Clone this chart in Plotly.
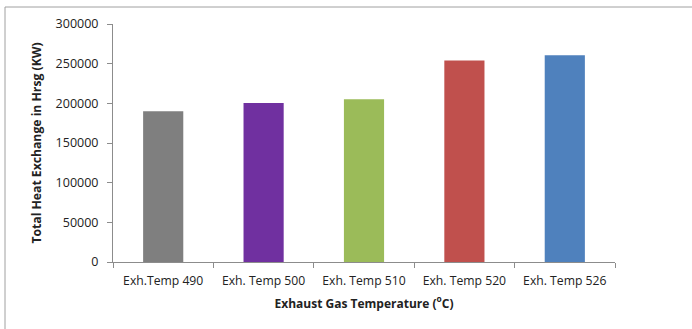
import plotly.graph_objects as go

categories = ["Exh.Temp 490", "Exh. Temp 500", "Exh. Temp 510", "Exh. Temp 520", "Exh. Temp 526"]
heat_exchange = [190000, 200500, 205000, 254000, 260500]
bar_colors = ["#7f7f7f", "#7030a0", "#9bbb59", "#c0504d", "#4f81bd"]
y_ticks = [0, 50000, 100000, 150000, 200000, 250000, 300000]

fig = go.Figure(go.Bar(x=categories, y=heat_exchange, marker=dict(color=bar_colors, line=dict(width=0)), width=0.4))

fnt = "Open Sans, Liberation Sans, sans-serif"
fig.update_layout(
    width=692, height=329,
    margin=dict(l=113, r=77, t=24, b=67, autoexpand=False),
    paper_bgcolor="white", plot_bgcolor="white",
    showlegend=False,
    font=dict(family=fnt, size=11, color="#222"),
    xaxis=dict(
        type="category", showline=True, linecolor="#8c8c8c", linewidth=1,
        ticks="outside", tickson="boundaries", ticklen=5, tickcolor="#8c8c8c",
        ticklabelstandoff=7,
        tickfont=dict(size=12.2, color="#222"),
        title=dict(text="<b>Exhaust Gas Temperature (<sup>o</sup>C)</b>", font=dict(size=12), standoff=11),
    ),
    yaxis=dict(
        range=[0, 300000], tickvals=y_ticks, tickformat="d", showline=True, linecolor="#8c8c8c", linewidth=1,
        ticks="outside", ticklen=5, tickcolor="#8c8c8c", showgrid=False, zeroline=False,
        ticklabelstandoff=6,
        tickfont=dict(size=12.5, color="#222"),
        title=dict(text="<b>Total Heat Exchange in Hrsg (KW)</b>", font=dict(size=12.2), standoff=11),
    ),
    shapes=[dict(type="rect", xref="paper", yref="paper",
                 x0=(5 - 113) / 502, x1=(700 - 113) / 502,
                 y0=(262 - 340) / 238, y1=(262 - 7) / 238,
                 line=dict(color="#a0a0a0", width=1), layer="below")],
)

fig.write_html("out.html", config={"displayModeBar": False},
               post_script="document.body.style.margin='0';document.body.style.overflow='hidden';")
